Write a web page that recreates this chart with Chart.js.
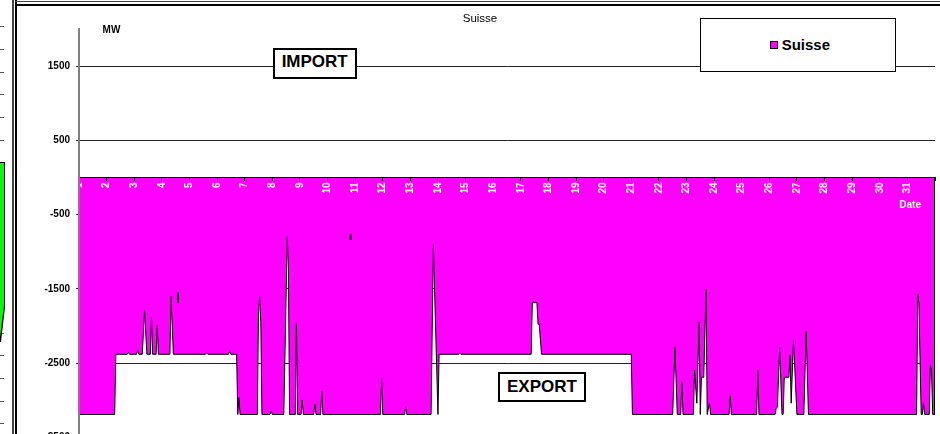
<!DOCTYPE html>
<html>
<head>
<meta charset="utf-8">
<title>Suisse</title>
<script src="https://cdn.jsdelivr.net/npm/chart.js@4.4.0/dist/chart.umd.min.js"></script>
<style>
  html, body { margin: 0; padding: 0; background: #fff; overflow: hidden; }
  #wrap { position: relative; width: 940px; height: 434px; overflow: hidden; font-family: 'Liberation Sans', Arial, sans-serif; }
  #myChart { position: absolute; left: 0; top: 0; }
  .txt { position: absolute; white-space: nowrap; font-weight: bold; }
  .caja { position: absolute; box-sizing: border-box; background: #fff; border: 2px solid #000;
          font-weight: bold; font-size: 17px; line-height: 17px;
          display: flex; align-items: center; justify-content: center; }
  .linea { position: absolute; }
  .raya { position: absolute; left: 0; width: 4px; height: 1px; background: #555; }
</style>
</head>
<body>
<div id="wrap">
  <canvas id="myChart" width="940" height="450"></canvas>

  <div class="linea" style="left:12px;top:0;width:2px;height:434px;background:#444"></div>
  <div class="linea" style="left:15px;top:0;width:2px;height:434px;background:#000"></div>
  <div class="linea" style="left:15px;top:1px;width:925px;height:1px;background:#444"></div>
  <div class="linea" style="left:15px;top:4px;width:925px;height:2px;background:#000"></div>

  <div id="rayas"></div>
  <div class="linea" style="left:0;top:162px;width:5px;height:180px;background:#000;clip-path:polygon(0 0,5px 0,5px 145px,1px 180px,0 180px)"></div>
  <div class="linea" style="left:0;top:163px;width:4px;height:176px;background:#00ff00;clip-path:polygon(0 0,4px 0,4px 142px,0 174px)"></div>

  <div class="txt" style="left:102.6px;top:25.4px;font-size:10px;line-height:10px">MW</div>
  <div class="txt" style="left:899.3px;top:200.4px;font-size:10px;line-height:10px;color:#fff">Date</div>

  <div class="caja" style="left:272.7px;top:48.3px;width:84px;height:30.7px;padding-bottom:4px">IMPORT</div>
  <div class="caja" style="left:498.3px;top:371.7px;width:87.4px;height:30.6px;padding-bottom:1.6px">EXPORT</div>

  <div id="leyenda" class="linea" style="left:700px;top:18px;width:196px;height:54px;box-sizing:border-box;border:1px solid #000;background:#fff">
    <div id="leyCuadro" class="linea" style="left:69px;top:22px;width:8px;height:8px;box-sizing:border-box;border:1px solid #000"></div>
    <div id="leyTexto" class="txt" style="left:80.7px;top:18.35px;font-size:15px;line-height:15px"></div>
  </div>
</div>

<script>
// horas desde el dia 1 a las 00h y potencia en MW (negativo = export)
var horas = [0, 31, 32, 42, 43, 44, 50, 51, 52, 55, 57, 59, 62, 63, 64, 67, 68, 69, 79, 80, 82,
  110, 111, 112, 130, 131, 132, 137, 138, 139, 140, 155, 156, 157, 158, 159, 166, 167, 168,
  178, 181, 182, 183, 188, 189, 190, 193, 194, 195, 204, 205, 206, 210, 211, 212,
  262, 263, 264, 283, 284, 285, 306, 308, 309, 312, 313, 330, 331, 332,
  393, 394, 398, 399, 400, 402, 480, 481, 516, 518, 520, 523, 524, 525,
  534, 535, 537, 539, 540, 541, 543, 545, 546, 548, 549, 565, 566, 567, 589, 590, 591,
  605, 606, 607, 609, 611, 612, 613, 617, 618, 619, 621, 624, 630, 632, 634,
  728, 729, 730, 732, 733, 734, 735, 739, 740, 741, 742, 744];

var mw = [-3190, -3190, -2380, -2380, -2355, -2380, -2380, -2320, -2380, -2380, -1793, -2380, -2380, -1877, -2380, -2380, -1985, -2380, -2380, -1604, -2380,
  -2380, -2362, -2380, -2380, -2330, -2380, -2380, -3190, -2964, -3190, -3190, -1850, -1604, -1950, -3190, -3190, -3145, -3190,
  -3190, -797, -1218, -3190, -3190, -1962, -3190, -3190, -2995, -3190, -3190, -3052, -3190, -3190, -2874, -3190,
  -3190, -2694, -3190, -3190, -3085, -3190, -3190, -899, -1491, -3190, -2380, -2380, -2362, -2380,
  -2380, -1685, -1685, -1976, -1976, -2380, -2380, -3190, -3190, -2285, -3190, -3190, -2756, -3190,
  -3190, -2591, -3039, -1949, -3190, -2689, -2689, -1501, -3190, -3039, -3190, -3190, -2941, -3190, -3190, -2591, -3190,
  -3190, -3106, -3090, -2285, -3190, -3190, -2689, -2689, -2393, -3039, -2187, -3190, -3190, -2066, -3190,
  -3190, -1568, -1700, -3190, -3190, -3031, -3190, -3190, -2533, -2600, -3190, -3190];

var dias = ['1', '2', '3', '4', '5', '6', '7', '8', '9', '10', '11', '12', '13', '14', '15', '16',
  '17', '18', '19', '20', '21', '22', '23', '24', '25', '26', '27', '28', '29', '30', '31'];

var ticksY = [-3500, -2500, -1500, -500, 500, 1500];

// marcas sueltas (trazos verticales cortos)
var marcaHoras = [86, 236];
var marcaAlto = [-1545, -765];
var marcaBajo = [-1685, -840];

var chart;
var fuente = "'Liberation Sans', Arial, sans-serif";

var bordeDerecho = {
  id: 'bordeDerecho',
  afterDatasetsDraw: function(c){
    var sx = c.scales.x, sy = c.scales.y, ctx = c.ctx;
    var px = Math.round(sx.getPixelForValue(horas[horas.length-1])) - 0.5;
    ctx.save();
    ctx.strokeStyle = '#000';
    ctx.lineWidth = 1;
    ctx.beginPath();
    ctx.moveTo(px, sy.getPixelForValue(0));
    ctx.lineTo(px, sy.getPixelForValue(mw[mw.length-1]));
    ctx.stroke();
    ctx.restore();
  }
};

function crearGrafica(){
  var serie = [];
  for(var i=0;i<horas.length;i++){
    serie.push({x: horas[i], y: mw[i]});
  }
  var marcas = [];
  for(var j=0;j<marcaHoras.length;j++){
    marcas.push({x: marcaHoras[j], y: marcaAlto[j]});
    marcas.push({x: marcaHoras[j], y: marcaBajo[j]});
    marcas.push({x: marcaHoras[j], y: null});
  }

  var ctx = document.getElementById('myChart');
  chart = new Chart(ctx, {
    type: 'line',
    data: {
      datasets: [{
        label: 'Suisse',
        data: serie,
        fill: 'origin',
        backgroundColor: '#ff00ff',
        borderColor: '#000000',
        borderWidth: 1,
        pointRadius: 0,
        tension: 0,
        order: 1
      }, {
        label: '',
        data: marcas,
        fill: false,
        borderColor: '#000000',
        borderWidth: 2,
        pointRadius: 0,
        spanGaps: false,
        order: 0
      }]
    },
    options: {
      responsive: false,
      animation: false,
      events: [],
      layout: { padding: { left: 25, right: 5, top: 0, bottom: 12.5 } },
      plugins: {
        legend: { display: false },
        tooltip: { enabled: false },
        title: {
          display: true,
          text: 'Suisse',
          color: '#000',
          font: { family: fuente, size: 11.5, weight: 'normal', lineHeight: 1.2 },
          padding: { top: 12.3, bottom: 2.75 }
        }
      },
      scales: {
        x: {
          type: 'linear',
          min: 0,
          max: 744,
          position: { y: 0 },
          afterBuildTicks: function(s){
            var t = [];
            for(var k=0;k<=dias.length;k++){ t.push({value: k*24}); }
            s.ticks = t;
          },
          afterFit: function(s){
            s.paddingLeft = 0; s.paddingRight = 0; s.paddingTop = 0; s.paddingBottom = 0;
          },
          grid: { z: 1, drawOnChartArea: false, drawTicks: true, tickLength: 3, color: '#000', lineWidth: 1 },
          border: { z: 1, display: true, color: '#000', width: 1 },
          ticks: {
            z: 1,
            autoSkip: false,
            minRotation: 90,
            maxRotation: 90,
            padding: 2,
            color: '#fff',
            font: { family: fuente, size: 10, weight: 'bold' },
            callback: function(v, i){ return dias[i] || ''; }
          }
        },
        y: {
          min: -3500,
          max: 2000,
          afterBuildTicks: function(s){
            s.ticks = ticksY.map(function(v){ return {value: v}; });
          },
          afterFit: function(s){
            s.width = 54;
            s.paddingTop = 0; s.paddingBottom = 0;
          },
          grid: { color: '#222', lineWidth: 1, tickLength: 3 },
          border: { z: 1, color: '#808080', width: 2 },
          ticks: {
            padding: 6,
            color: '#000',
            font: { family: fuente, size: 10, weight: 'bold' },
            callback: function(v){ return String(v); }
          }
        }
      }
    },
    plugins: [bordeDerecho]
  });

  // leyenda html a partir de la serie
  var ds = chart.data.datasets[0];
  document.getElementById('leyTexto').textContent = ds.label;
  document.getElementById('leyCuadro').style.background = ds.backgroundColor;
}

// trazos del grafico vecino a la izquierda
var rayasY = [26, 49, 72, 94, 117, 140, 185, 207, 230, 252, 275, 298, 333, 355, 378, 401, 423];
var cont = document.getElementById('rayas');
rayasY.forEach(function(y){
  var d = document.createElement('div');
  d.className = 'raya';
  d.style.top = y + 'px';
  cont.appendChild(d);
});

crearGrafica();
</script>
</body>
</html>
